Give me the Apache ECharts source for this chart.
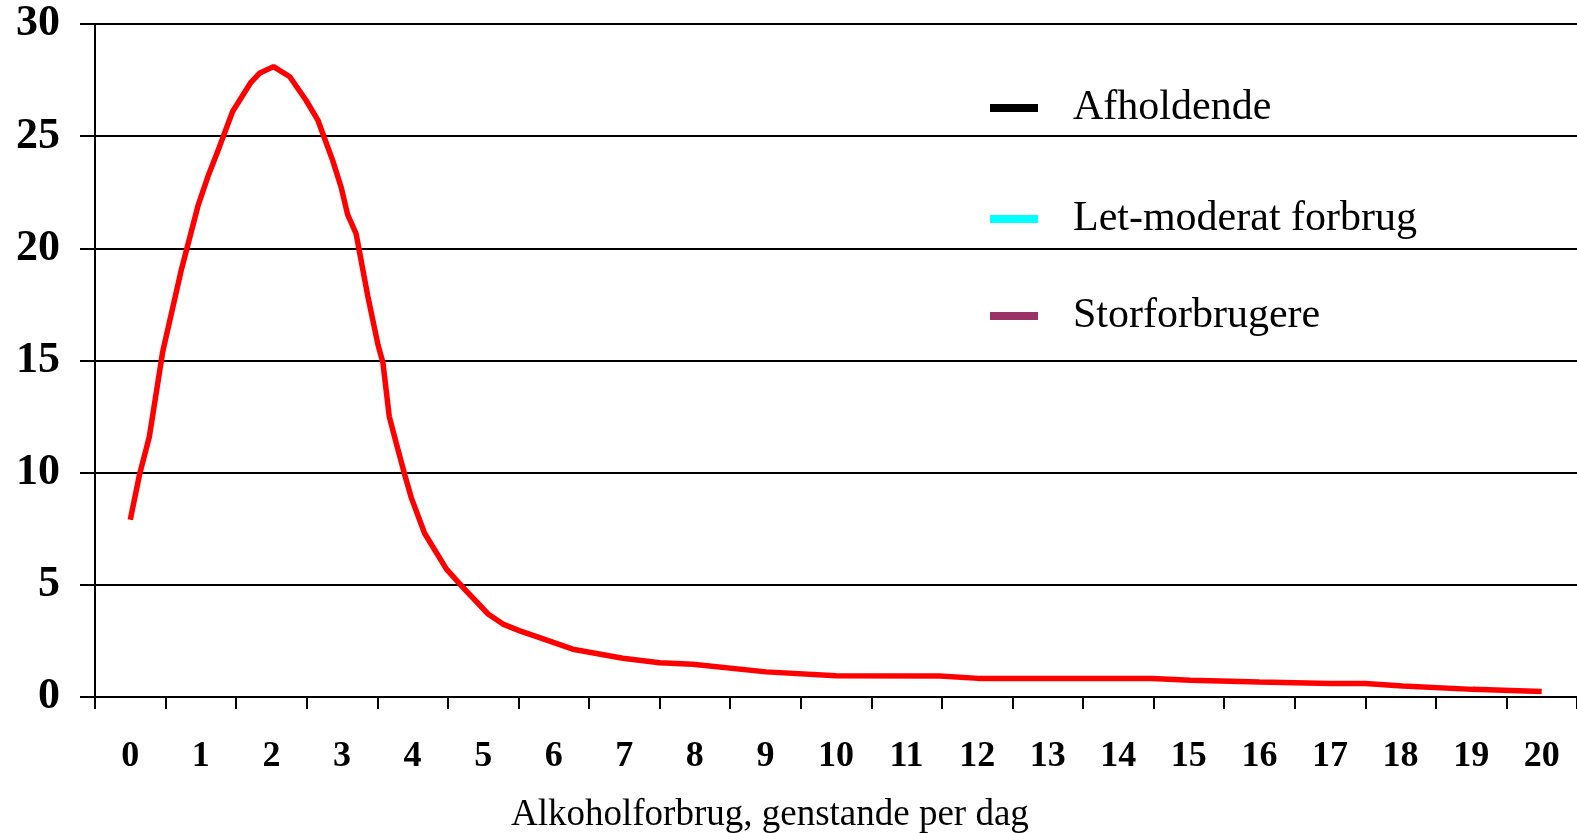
<!DOCTYPE html>
<html>
<head>
<meta charset="utf-8">
<script src="https://cdn.jsdelivr.net/npm/echarts@6/dist/echarts.min.js"></script>
<style>
html,body{margin:0;padding:0;background:#fff;}
#chart{width:1577px;height:833px;}
</style>
</head>
<body>
<div id="chart"></div>
<script>
// Category labels on the x axis
var categories = ['0','1','2','3','4','5','6','7','8','9','10','11','12','13','14','15','16','17','18','19','20'];
// Red curve: x positions (in category units) and values
var curveX = [0, 0.13, 0.27, 0.46, 0.72, 0.96, 1.1, 1.26, 1.45, 1.71, 1.83, 2.03, 2.26, 2.49, 2.66, 2.87, 2.99, 3.08, 3.2, 3.37, 3.51, 3.58, 3.67, 3.77, 3.89, 3.98, 4.17, 4.48, 4.71, 5.07, 5.28, 5.52, 5.8, 6.27, 6.98, 7.5, 7.97, 9.01, 10.0, 11.47, 12.02, 13.0, 14.0, 14.48, 15.02, 16.0, 17.0, 17.5, 18.03, 19.02, 20.0];
var curveY = [7.9, 9.9, 11.6, 15.4, 19.0, 21.9, 23.2, 24.5, 26.1, 27.4, 27.8, 28.1, 27.65, 26.6, 25.7, 23.9, 22.7, 21.5, 20.65, 17.8, 15.7, 14.9, 12.5, 11.3, 9.9, 8.9, 7.3, 5.7, 4.9, 3.7, 3.25, 2.95, 2.65, 2.13, 1.73, 1.53, 1.46, 1.12, 0.95, 0.94, 0.83, 0.83, 0.83, 0.83, 0.75, 0.67, 0.6, 0.6, 0.49, 0.34, 0.24];
// Legend series (no visible data in the picture)
var legendNames = ['Afholdende', 'Let-moderat forbrug', 'Storforbrugere'];
var legendColors = ['#000000', '#00FFFF', '#993366'];
var yTicks = [0, 5, 10, 15, 20, 25, 30];

var FONT = "'Liberation Serif', 'Times New Roman', serif";
var curveData = curveX.map(function (x, i) { return [x, curveY[i]]; });

var series = legendNames.map(function (n, i) {
  return { name: n, type: 'line', xAxisIndex: 0, data: [], color: legendColors[i], showSymbol: false };
});
series.push({
  name: 'Kurve', type: 'line', xAxisIndex: 1, data: curveData, showSymbol: false, smooth: false,
  lineStyle: { color: '#FF0000', width: 5.5 }, color: '#FF0000', silent: true, z: 5
});

var legendTops = [82, 193, 290];
var legends = legendNames.map(function (n, i) {
  return {
    data: [n], orient: 'vertical', left: 985, top: legendTops[i],
    icon: 'rect', itemWidth: 48, itemHeight: 8,
    textStyle: { fontFamily: FONT, fontSize: 42, color: '#000', padding: [0, 0, 0, 30] },
    selectedMode: false
  };
});

var chart = echarts.init(document.getElementById('chart'), null, { renderer: 'canvas' });
chart.setOption({
  animation: false,
  backgroundColor: '#fff',
  grid: { left: 95, right: 0, top: 24, bottom: 136, containLabel: false },
  title: {
    text: 'Alkoholforbrug, genstande per dag',
    left: 506, top: 792,
    textStyle: { fontFamily: FONT, fontSize: 37, fontWeight: 'normal', color: '#000' }
  },
  legend: legends,
  xAxis: [{
    type: 'category', data: categories, boundaryGap: true, position: 'bottom',
    axisLine: { show: true, onZero: false, lineStyle: { color: '#000', width: 2 } },
    axisTick: { show: true, inside: false, length: 12, alignWithLabel: false, lineStyle: { color: '#000', width: 2 } },
    axisLabel: { margin: 42, fontFamily: FONT, fontSize: 36, fontWeight: 'bold', color: '#000' },
    splitLine: { show: false }
  }, {
    type: 'value', min: -0.5, max: 20.5, show: false, splitLine: { show: false }
  }],
  yAxis: {
    type: 'value', min: 0, max: 30, interval: 5,
    axisLine: { show: true, onZero: false, lineStyle: { color: '#000', width: 2 } },
    axisTick: { show: true, inside: false, length: 15, lineStyle: { color: '#000', width: 2 } },
    axisLabel: { margin: 35, fontFamily: FONT, fontSize: 44, fontWeight: 'bold', color: '#000' },
    splitLine: { show: true, lineStyle: { color: '#000', width: 2 } }
  },
  series: series
});
</script>
</body>
</html>
